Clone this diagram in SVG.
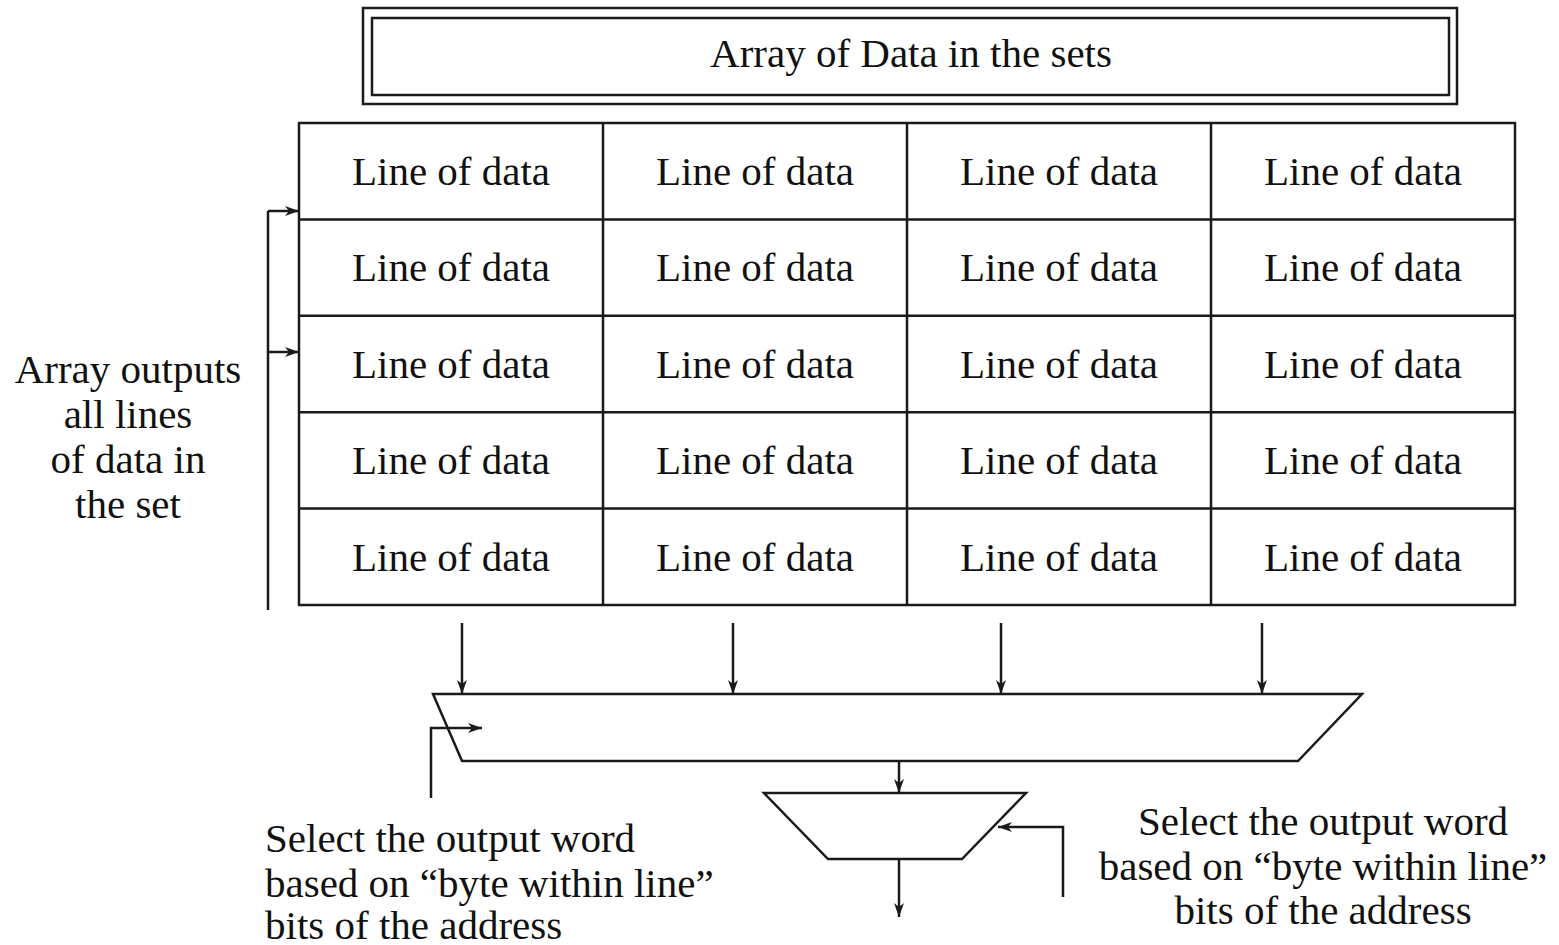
<svg xmlns="http://www.w3.org/2000/svg" width="1559" height="945" viewBox="0 0 1559 945">
  <style>
    .ln { fill: none; stroke: #1a1a1a; stroke-width: 2.5; }
    .box { fill: #fff; stroke: #1a1a1a; stroke-width: 2.5; }
    .t { font-family: "Liberation Serif", "Times New Roman", serif; font-size: 41px; fill: #111; }
    .c { text-anchor: middle; }
  </style>
  <defs>
    <marker id="ah" viewBox="0 0 14 10" refX="14" refY="5" markerWidth="14" markerHeight="10" markerUnits="userSpaceOnUse" orient="auto">
      <path d="M0,0 L14,5 L0,10 L4,5 Z" fill="#1a1a1a"/>
    </marker>
  </defs>
  <rect width="1559" height="945" fill="#fff"/>

  <!-- title block -->
  <g id="title">
    <rect class="box" x="363" y="8" width="1094" height="96"/>
    <rect class="box" x="372" y="18" width="1077" height="77"/>
    <text class="t c" x="911" y="67">Array of Data in the sets</text>
  </g>

  <!-- set array: 5 rows x 4 lines -->
  <g id="array">
    <rect class="box" x="299" y="123" width="1216" height="482"/>
    <path class="ln" d="M603,123 V605 M907,123 V605 M1211,123 V605 M299,219.4 H1515 M299,315.8 H1515 M299,412.2 H1515 M299,508.6 H1515"/>
    <g class="t c">
      <text x="451" y="185">Line of data</text><text x="755" y="185">Line of data</text><text x="1059" y="185">Line of data</text><text x="1363" y="185">Line of data</text>
      <text x="451" y="281">Line of data</text><text x="755" y="281">Line of data</text><text x="1059" y="281">Line of data</text><text x="1363" y="281">Line of data</text>
      <text x="451" y="378">Line of data</text><text x="755" y="378">Line of data</text><text x="1059" y="378">Line of data</text><text x="1363" y="378">Line of data</text>
      <text x="451" y="474">Line of data</text><text x="755" y="474">Line of data</text><text x="1059" y="474">Line of data</text><text x="1363" y="474">Line of data</text>
      <text x="451" y="571">Line of data</text><text x="755" y="571">Line of data</text><text x="1059" y="571">Line of data</text><text x="1363" y="571">Line of data</text>
    </g>
  </g>

  <!-- left label -->
  <g id="array-label" class="t c">
    <text x="128" y="383">Array outputs</text>
    <text x="128" y="428">all lines</text>
    <text x="128" y="473">of data in</text>
    <text x="128" y="518">the set</text>
  </g>

  <!-- line selector -->
  <g id="line-mux">
    <path class="box" d="M433,694 H1362 L1298,761 H462 Z"/>
  </g>

  <!-- word selector -->
  <g id="word-mux">
    <path class="box" d="M764,793 H1026 L962,859 H828 Z"/>
  </g>

  <!-- select labels -->
  <g id="select-left" class="t">
    <text x="265" y="852">Select the output word</text>
    <text x="265" y="897">based on “byte within line”</text>
    <text x="265" y="939">bits of the address</text>
  </g>
  <g id="select-right" class="t c">
    <text x="1323" y="835">Select the output word</text>
    <text x="1323" y="880">based on “byte within line”</text>
    <text x="1323" y="924">bits of the address</text>
  </g>

  <!-- connectors -->
  <g id="connectors">
    <path class="ln" d="M268,610 V211"/>
    <path class="ln" d="M268,211 H299" marker-end="url(#ah)"/>
    <path class="ln" d="M268,352 H299" marker-end="url(#ah)"/>
    <path class="ln" d="M462,623 V694" marker-end="url(#ah)"/>
    <path class="ln" d="M733,623 V694" marker-end="url(#ah)"/>
    <path class="ln" d="M1001,623 V694" marker-end="url(#ah)"/>
    <path class="ln" d="M1262,623 V694" marker-end="url(#ah)"/>
    <path class="ln" d="M431,798 V728 H482" marker-end="url(#ah)"/>
    <path class="ln" d="M899,761 V793" marker-end="url(#ah)"/>
    <path class="ln" d="M899,859 V917" marker-end="url(#ah)"/>
    <path class="ln" d="M1063,897 V827 H998" marker-end="url(#ah)"/>
  </g>
</svg>
